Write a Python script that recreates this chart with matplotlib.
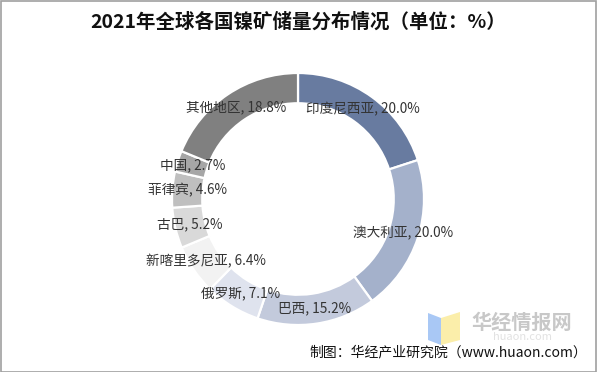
import matplotlib
matplotlib.use("Agg")
import matplotlib.pyplot as plt
import numpy as np
from matplotlib.patches import Rectangle, Polygon

plt.rcParams['font.family'] = ['Noto Sans CJK SC', 'DejaVu Sans']

categories = ['印度尼西亚', '澳大利亚', '巴西', '俄罗斯', '新喀里多尼亚', '古巴', '菲律宾', '中国', '其他地区']
values = [20.0, 20.0, 15.2, 7.1, 6.4, 5.2, 4.6, 2.7, 18.8]
colors = ['#687ba0', '#a4b1cb', '#c3cadc', '#dfe3ee', '#f2f2f2', '#d9d9d9', '#bfbfbf', '#a6a6a6', '#808080']
title = '2021年全球各国镍矿储量分布情况（单位：%）'
source = '制图：华经产业研究院（www.huaon.com）'

W, H = 597, 372
fig = plt.figure(figsize=(W / 100, H / 100), dpi=100)
fig.patch.set_facecolor('white')
fig.patches.append(Rectangle((0.5 / W, 0.5 / H), 1 - 1.5 / W, 1 - 1.5 / H, transform=fig.transFigure,
                             fill=False, edgecolor='#a0a0a0', linewidth=1.2))

cx, cy, R = 298, 199, 126
ax = fig.add_axes([(cx - R) / W, (H - cy - R) / H, 2 * R / W, 2 * R / H])
ax.set_aspect('equal')
wedges, _ = ax.pie(values, colors=colors, startangle=90, counterclock=False, radius=1,
                   wedgeprops=dict(width=0.24, edgecolor='white', linewidth=1.6))
ax.set_xlim(-1, 1)
ax.set_ylim(-1, 1)
ax.axis('off')

total = sum(values)
cum = 0
for cat, v in zip(categories, values):
    mid = 90 - (cum + v / 2) / total * 360
    cum += v
    r = 0.88
    x, y = r * np.cos(np.radians(mid)), r * np.sin(np.radians(mid))
    ax.text(x, y, f'{cat}, {v:.1f}%', ha='center', va='center', fontsize=9.8, color='#333333')

fig.text(0.5, 1 - 22 / H, title, ha='center', va='center', fontsize=14, fontweight='bold', color='#111111')

# watermark
fig.patches.append(Polygon([[428 / W, 1 - 313 / H], [441 / W, 1 - 318 / H], [441 / W, 1 - 345 / H], [428 / W, 1 - 340 / H]],
                           closed=True, transform=fig.transFigure, facecolor='#a9c8f5', edgecolor='none'))
fig.patches.append(Polygon([[441 / W, 1 - 318 / H], [460 / W, 1 - 312 / H], [460 / W, 1 - 340 / H], [441 / W, 1 - 345 / H]],
                           closed=True, transform=fig.transFigure, facecolor='#fbeeaa', edgecolor='none'))
fig.text(522 / W, 1 - 322 / H, '华经情报网', ha='center', va='center', fontsize=14.5, fontweight='bold', color='#c8c8c8')
fig.text(522 / W, 1 - 337 / H, 'huaon.com', ha='center', va='center', fontsize=8, color='#e2e2e2')

fig.text(587 / W, 1 - 352 / H, source, ha='right', va='center', fontsize=10, color='#111111')

fig.savefig('out.png', dpi=100)
